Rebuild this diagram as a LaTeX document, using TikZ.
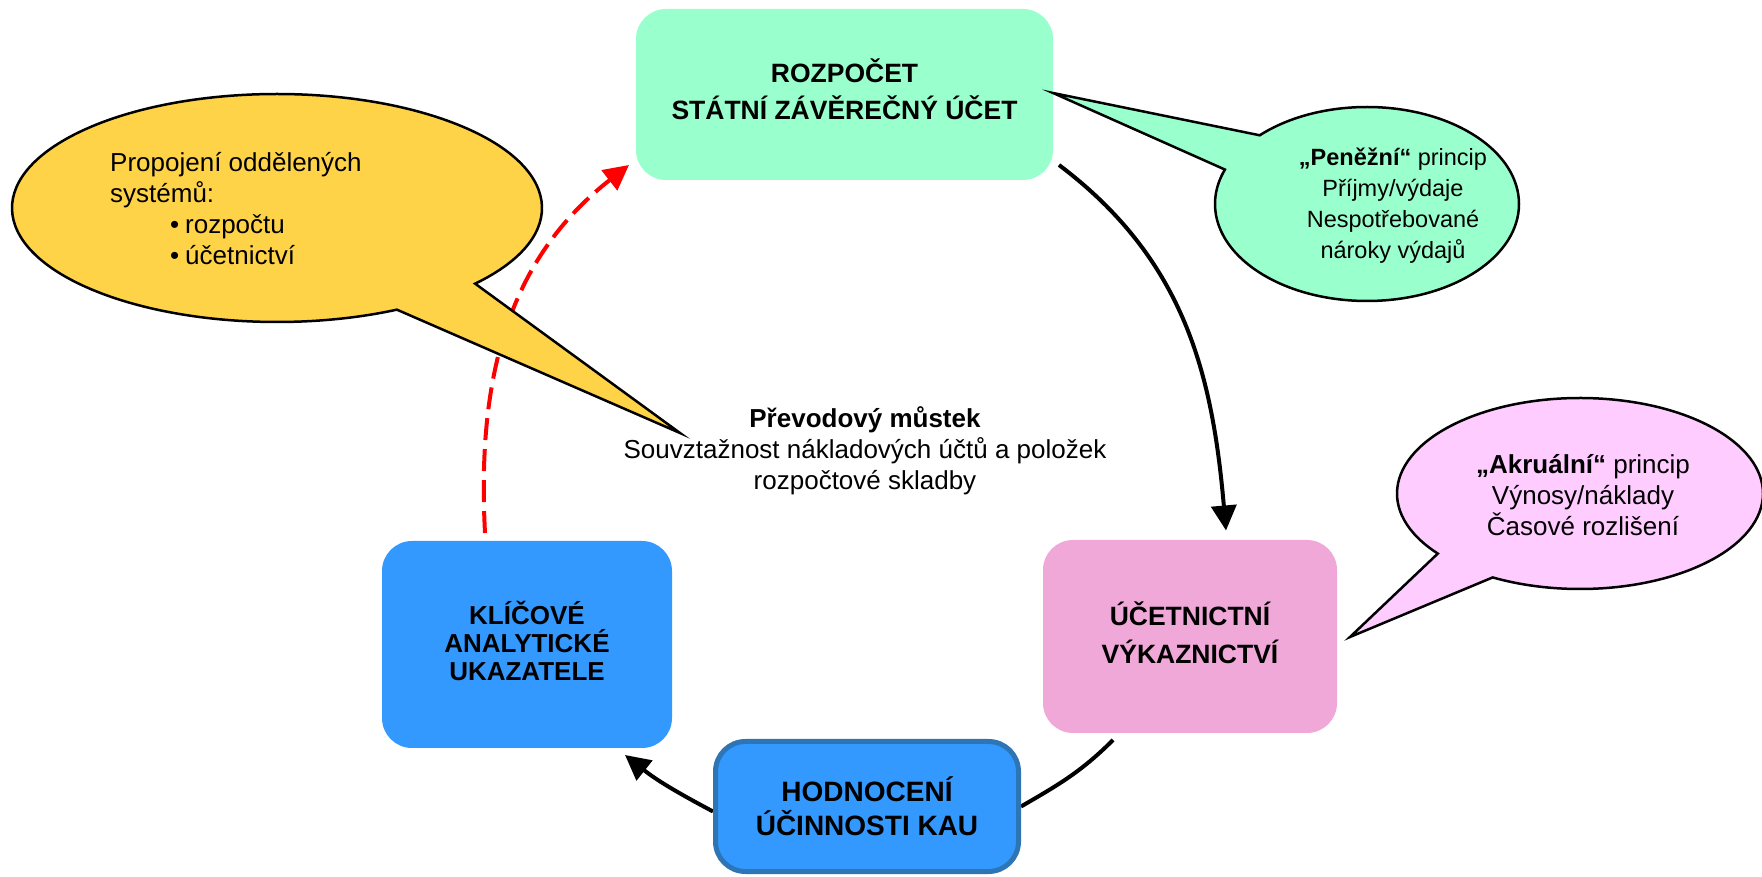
\documentclass[tikz,border=0pt]{standalone}
\usepackage{fontspec}
\setmainfont{Liberation Sans}
\usetikzlibrary{arrows.meta,calc}
\definecolor{mint}{HTML}{99FFCC}
\definecolor{pinkbox}{HTML}{F0A8D8}
\definecolor{pinkcall}{HTML}{FFCCFF}
\definecolor{bluebox}{HTML}{3399FF}
\definecolor{blueborder}{HTML}{2E75B6}
\definecolor{goldcall}{HTML}{FFD348}
\pgfdeclarelayer{bg}
\pgfsetlayers{bg,main}
\begin{document}
\begin{tikzpicture}[x=1pt,y=1pt,
  box/.style={rounded corners=30pt, inner sep=0pt, outer sep=0pt, align=center},
  callout/.style={draw=black, line width=2.5pt, line join=miter},
  body/.style={font=\fontsize{26}{31}\selectfont, inner sep=0pt},
  cycarrow/.style={line width=4pt, -{Triangle[length=25pt,width=25pt]}},
  reddash/.style={line width=4pt, red, dash pattern=on 22pt off 9pt, -{Triangle[length=25pt,width=25pt]}}]
\useasboundingbox (0,0) rectangle (1762,876);

% boxes
\node[box, fill=mint, minimum width=417pt, minimum height=171pt,
  font=\fontsize{26.5}{37}\selectfont\bfseries] (roz) at (844.5,781.5)
  {ROZPOČET\\STÁTNÍ ZÁVĚREČNÝ ÚČET\rule[-10pt]{0pt}{10pt}};
\node[box, fill=pinkbox, minimum width=294pt, minimum height=193pt,
  font=\fontsize{26.5}{38}\selectfont\bfseries] (uce) at (1190,239.5)
  {ÚČETNICTNÍ\\VÝKAZNICTVÍ\rule[-7pt]{0pt}{7pt}};
\node[box, fill=bluebox, minimum width=290pt, minimum height=207pt,
  font=\fontsize{26}{28}\selectfont\bfseries] (kli) at (527,231.5)
  {KLÍČOVÉ\\ANALYTICKÉ\\UKAZATELE\rule[-7pt]{0pt}{7pt}};
\node[box, fill=bluebox, draw=blueborder, line width=5pt, outer sep=2.5pt,
  minimum width=303pt, minimum height=130pt,
  font=\fontsize{28}{34}\selectfont\bfseries] (hod) at (867,69.5)
  {HODNOCENÍ\\ÚČINNOSTI KAU};

% centre text
\node[body, align=center] (mid) at (865,425)
  {\textbf{Převodový můstek}\\Souvztažnost nákladových účtů a položek\\rozpočtové skladby};

% yellow callout
\coordinate (yc) at (277,668);
\coordinate (ytip) at (680,443);
\draw[callout, fill=goldcall] (ytip) -- ([shift={(-41.6:265 and 114)}]yc)
  arc[start angle=-41.6, end angle=296.9, x radius=265, y radius=114] -- cycle;
\node[body, align=left, anchor=north west] (ytext) at (110,724)
  {Propojení oddělených\\systémů:\\\hspace*{60pt}\makebox[15pt][l]{•}rozpočtu\\\hspace*{60pt}\makebox[15pt][l]{•}účetnictví};

% green callout
\coordinate (gc) at (1367,672);
\coordinate (gtip) at (1053,783);
\draw[callout, fill=mint] (gtip) -- ([shift={(134.9:152 and 97)}]gc)
  arc[start angle=134.9, end angle=-200.8, x radius=152, y radius=97] -- cycle;
\node[body, align=center, font=\fontsize{23.5}{31}\selectfont] (gtext) at (1393,670)
  {\textbf{„Peněžní“} princip\\Příjmy/výdaje\\Nespotřebované\\nároky výdajů};

% pink callout
\coordinate (pc) at (1580,382.5);
\coordinate (ptip) at (1350,239);
\draw[callout, fill=pinkcall] (ptip) -- ([shift={(219:183 and 95.5)}]pc)
  arc[start angle=219, end angle=-118.5, x radius=183, y radius=95.5] -- cycle;
\node[body, align=center] (ptext) at (1583,381)
  {\textbf{„Akruální“} princip\\Výnosy/náklady\\Časové rozlišení};

% connectors
\begin{pgfonlayer}{bg}
\draw[reddash] ([shift={(-42pt,8pt)}]kli.north) to[out=93,in=218] ([shift={(-7pt,15pt)}]roz.south west);
\draw[cycarrow] ([shift={(6pt,15pt)}]roz.south east) to[out=-37,in=95] ([shift={(36pt,9.5pt)}]uce.north);
\draw[line width=4pt] ([shift={(-77pt,-7pt)}]uce.south) to[out=225,in=30] (hod.east);
\draw[cycarrow] ([yshift=-5pt]hod.west) to[out=152,in=321.5] ([shift={(-47pt,-7pt)}]kli.south east);
\end{pgfonlayer}
\end{tikzpicture}
\end{document}
